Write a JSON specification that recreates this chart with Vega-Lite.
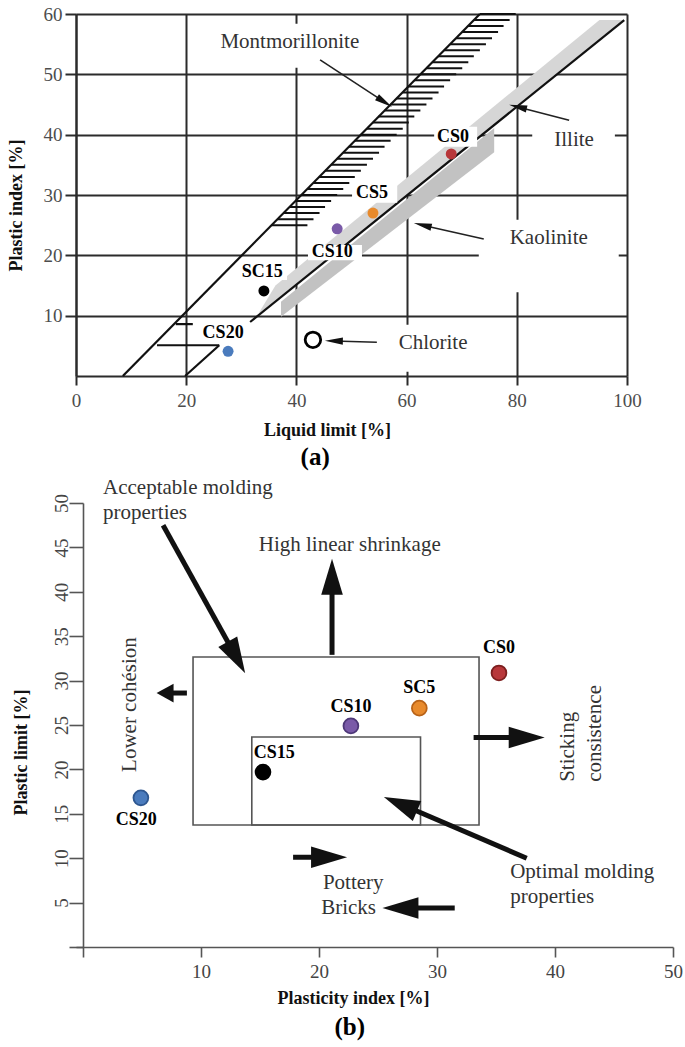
{
  "$schema": "https://vega.github.io/schema/vega-lite/v6.json",
  "padding": {"left": 7, "top": 5, "right": 5, "bottom": 5},
  "background": "white",
  "config": {
    "font": "Liberation Serif",
    "view": {"stroke": null},
    "text": {"font": "Liberation Serif"}
  },
  "bounds": "flush",
  "spacing": 127,
  "datasets": {
    "illite": [
      {"y": 10.5, "x": 33.2, "x2": 33.7},
      {"y": 15, "x": 36.2, "x2": 39.8},
      {"y": 59, "x": 95.0, "x2": 99.4}
    ],
    "kaolinite": [
      {"x": 37.2, "y": 12.3, "y2": 9.8},
      {"x": 75.9, "y": 41.1, "y2": 37.1}
    ],
    "linesA": [
      {"x": 8.5, "y": 0, "x2": 73.3, "y2": 60},
      {"x": 31.6, "y": 8.95, "x2": 99.5, "y2": 59.0},
      {"x": 18.1, "y": 8.6, "x2": 21.2, "y2": 8.6},
      {"x": 14.7, "y": 5.1, "x2": 26.0, "y2": 5.1},
      {"x": 19.8, "y": 0, "x2": 26.0, "y2": 5.1}
    ],
    "hatch": [
      {"y": 25, "x": 35.5, "x2": 42.0}, {"y": 26, "x": 36.6, "x2": 43.1},
      {"y": 27, "x": 37.7, "x2": 44.2}, {"y": 28, "x": 38.7, "x2": 45.2},
      {"y": 29, "x": 39.8, "x2": 46.3}, {"y": 30, "x": 40.9, "x2": 47.4},
      {"y": 31, "x": 42.0, "x2": 48.5}, {"y": 32, "x": 43.1, "x2": 49.6},
      {"y": 33, "x": 44.1, "x2": 50.6}, {"y": 34, "x": 45.2, "x2": 51.7},
      {"y": 35, "x": 46.3, "x2": 52.8}, {"y": 36, "x": 47.4, "x2": 53.9},
      {"y": 37, "x": 48.5, "x2": 55.0}, {"y": 38, "x": 49.5, "x2": 56.0},
      {"y": 39, "x": 50.6, "x2": 57.1}, {"y": 40, "x": 51.7, "x2": 58.2},
      {"y": 41, "x": 52.8, "x2": 59.3}, {"y": 42, "x": 53.9, "x2": 60.4},
      {"y": 43, "x": 54.9, "x2": 61.4}, {"y": 44, "x": 56.0, "x2": 62.5},
      {"y": 45, "x": 57.1, "x2": 63.6}, {"y": 46, "x": 58.2, "x2": 64.7},
      {"y": 47, "x": 59.3, "x2": 65.8}, {"y": 48, "x": 60.3, "x2": 66.8},
      {"y": 49, "x": 61.4, "x2": 67.9}, {"y": 50, "x": 62.5, "x2": 69.0},
      {"y": 51, "x": 63.6, "x2": 70.1}, {"y": 52, "x": 64.7, "x2": 71.2},
      {"y": 53, "x": 65.7, "x2": 72.2}, {"y": 54, "x": 66.8, "x2": 73.3},
      {"y": 55, "x": 67.9, "x2": 74.4}, {"y": 56, "x": 69.0, "x2": 75.5},
      {"y": 57, "x": 70.1, "x2": 76.6}, {"y": 58, "x": 71.1, "x2": 77.6},
      {"y": 59, "x": 72.2, "x2": 78.7}, {"y": 60, "x": 73.3, "x2": 79.8}
    ],
    "boxesA": [
      {"x": 65.0, "x2": 72.8, "y": 38.0, "y2": 41.3},
      {"x": 50.1, "x2": 58.3, "y": 28.7, "y2": 31.7},
      {"x": 42.1, "x2": 51.9, "y": 19.2, "y2": 21.7},
      {"x": 29.4, "x2": 38.3, "y": 15.9, "y2": 18.4},
      {"x": 22.5, "x2": 31.0, "y": 5.6, "y2": 8.1},
      {"x": 22.5, "x2": 55.2, "y": 51.1, "y2": 58.4},
      {"x": 82.8, "x2": 97.8, "y": 35.0, "y2": 42.5},
      {"x": 73.1, "x2": 98.5, "y": 13.9, "y2": 25.9},
      {"x": 55.2, "x2": 77.0, "y": 0.7, "y2": 8.5}
    ],
    "pointsA": [
      {"s": "CS0", "x": 68.1, "y": 36.8},
      {"s": "CS5", "x": 53.9, "y": 27.0},
      {"s": "CS10", "x": 47.4, "y": 24.4},
      {"s": "CS15", "x": 34.1, "y": 14.1},
      {"s": "CS20", "x": 27.6, "y": 4.1}
    ],
    "ringA": [{"x": 43.0, "y": 6.0}],
    "shaftsA": [
      {"id": "mont", "x": 44.3, "y": 52.4, "x2": 56.0, "y2": 45.4},
      {"id": "illite", "x": 89.5, "y": 42.4, "x2": 80.2, "y2": 44.6},
      {"id": "kaol", "x": 74.0, "y": 22.7, "x2": 62.9, "y2": 25.0},
      {"id": "chlor", "x": 54.6, "y": 5.6, "x2": 46.8, "y2": 5.8}
    ],
    "headsA": [
      {"id": "mont", "x": 56.0, "y": 45.4},
      {"id": "illite", "x": 80.2, "y": 44.6},
      {"id": "kaol", "x": 62.9, "y": 25.0},
      {"id": "chlor", "x": 46.8, "y": 5.8}
    ],
    "labelsA": [
      {"t": "CS0", "x": 68.4, "y": 39.6},
      {"t": "CS5", "x": 53.7, "y": 30.3},
      {"t": "CS10", "x": 46.5, "y": 20.6},
      {"t": "SC15", "x": 33.8, "y": 17.2},
      {"t": "CS20", "x": 26.7, "y": 7.1}
    ],
    "notesA": [
      {"t": "Montmorillonite", "x": 38.8, "y": 55.4},
      {"t": "Illite", "x": 90.4, "y": 39.1},
      {"t": "Kaolinite", "x": 85.8, "y": 22.9},
      {"t": "Chlorite", "x": 64.8, "y": 5.5}
    ],
    "tagA": [{"t": "(a)", "x": 43.4, "y": -13.4}],
    "rectsB": [
      {"x": 9.32, "x2": 33.56, "y": 13.74, "y2": 32.66},
      {"x": 14.3, "x2": 28.6, "y": 13.74, "y2": 23.65}
    ],
    "shaftsB": [
      {"id": "acc", "x": 6.78, "y": 47.5, "x2": 13.0, "y2": 32.6},
      {"id": "shr", "x": 21.1, "y": 32.9, "x2": 21.1, "y2": 41.7},
      {"id": "coh", "x": 8.8, "y": 28.6, "x2": 6.95, "y2": 28.6},
      {"id": "sti", "x": 33.1, "y": 23.6, "x2": 37.6, "y2": 23.6},
      {"id": "pot", "x": 17.8, "y": 10.1, "x2": 20.85, "y2": 10.1},
      {"id": "bri", "x": 31.5, "y": 4.4, "x2": 26.9, "y2": 4.4},
      {"id": "opt", "x": 37.6, "y": 10.0, "x2": 26.9, "y2": 16.1}
    ],
    "headsB": [
      {"id": "acc", "x": 13.0, "y": 32.6},
      {"id": "shr", "x": 21.1, "y": 41.7},
      {"id": "coh", "x": 6.95, "y": 28.6},
      {"id": "sti", "x": 37.6, "y": 23.6},
      {"id": "pot", "x": 20.85, "y": 10.1},
      {"id": "bri", "x": 26.9, "y": 4.4},
      {"id": "opt", "x": 26.9, "y": 16.1}
    ],
    "pointsB": [
      {"s": "CS0", "x": 35.25, "y": 30.86},
      {"s": "CS5", "x": 28.5, "y": 26.9},
      {"s": "CS10", "x": 22.7, "y": 24.9},
      {"s": "CS15", "x": 15.25, "y": 19.7},
      {"s": "CS20", "x": 4.9, "y": 16.8}
    ],
    "labelsB": [
      {"t": "CS0", "x": 35.25, "y": 33.7},
      {"t": "SC5", "x": 28.5, "y": 29.2},
      {"t": "CS10", "x": 22.7, "y": 27.0},
      {"t": "CS15", "x": 16.2, "y": 21.8},
      {"t": "CS20", "x": 4.5, "y": 14.3}
    ],
    "notesB": [
      {"t": "Acceptable molding", "x": 1.69, "y": 51.7, "k": "left"},
      {"t": "properties", "x": 1.69, "y": 48.9, "k": "left"},
      {"t": "Optimal molding", "x": 36.2, "y": 8.4, "k": "left"},
      {"t": "properties", "x": 36.2, "y": 5.6, "k": "left"},
      {"t": "High linear shrinkage", "x": 22.6, "y": 45.3, "k": "center"},
      {"t": "Pottery", "x": 22.9, "y": 7.2, "k": "center"},
      {"t": "Bricks", "x": 22.5, "y": 4.4, "k": "center"},
      {"t": "Lower cohésion", "x": 4.0, "y": 27.3, "k": "rotc"},
      {"t": "Sticking", "x": 41.1, "y": 18.6, "k": "rotl"},
      {"t": "consistence", "x": 43.4, "y": 18.6, "k": "rotl"}
    ],
    "tagB": [{"t": "(b)", "x": 22.6, "y": -9.0}]
  },
  "vconcat": [
    {
      "width": 551,
      "height": 362,
      "encoding": {
        "x": {
          "field": "x", "type": "quantitative",
          "scale": {"domain": [0, 100], "nice": false, "zero": false},
          "axis": {
            "values": [0, 20, 40, 60, 80, 100], "grid": true,
            "gridColor": "#2b2b2b", "gridWidth": 2, "gridOpacity": 1,
            "domainColor": "#2b2b2b", "domainWidth": 2,
            "tickColor": "#2b2b2b", "tickWidth": 2, "tickSize": 9,
            "labelFontSize": 19, "labelColor": "#4d4d4d", "labelPadding": 6,
            "labelFlush": false, "labelOverlap": false,
            "title": "Liquid limit [%]", "titleFontSize": 18, "titleFontWeight": "bold",
            "titleColor": "#111111", "titleX": 251, "titleY": 54,
            "titleAlign": "center", "titleBaseline": "middle"
          }
        },
        "y": {
          "field": "y", "type": "quantitative",
          "scale": {"domain": [0, 60], "nice": false, "zero": false},
          "axis": {
            "values": [10, 20, 30, 40, 50, 60], "grid": true,
            "gridColor": "#2b2b2b", "gridWidth": 2, "gridOpacity": 1,
            "domainColor": "#2b2b2b", "domainWidth": 2,
            "tickColor": "#2b2b2b", "tickWidth": 2, "tickSize": 11,
            "labelFontSize": 19, "labelColor": "#4d4d4d", "labelPadding": 3,
            "labelFlush": false, "labelOverlap": false,
            "title": "Plastic index [%]", "titleFontSize": 18, "titleFontWeight": "bold",
            "titleColor": "#111111", "titleAngle": 270, "titleX": -60, "titleY": 191,
            "titleAlign": "center", "titleBaseline": "middle"
          }
        }
      },
      "layer": [
        {
          "data": {"name": "illite"},
          "mark": {"type": "area", "orient": "horizontal", "color": "#d6d6d6", "opacity": 1},
          "encoding": {"x2": {"field": "x2"}}
        },
        {
          "data": {"name": "kaolinite"},
          "mark": {"type": "area", "orient": "vertical", "color": "#c2c2c2", "opacity": 1},
          "encoding": {"y2": {"field": "y2"}}
        },
        {
          "data": {"name": "linesA"},
          "mark": {"type": "rule", "color": "#111111", "strokeWidth": 2.2},
          "encoding": {"x2": {"field": "x2"}, "y2": {"field": "y2"}}
        },
        {
          "data": {"name": "hatch"},
          "mark": {"type": "rule", "color": "#111111", "strokeWidth": 2},
          "encoding": {"x2": {"field": "x2"}}
        },
        {
          "data": {"name": "boxesA"},
          "mark": {"type": "rect", "color": "white", "opacity": 1},
          "encoding": {"x2": {"field": "x2"}, "y2": {"field": "y2"}}
        },
        {
          "data": {"name": "pointsA"},
          "mark": {"type": "point", "filled": true, "size": 120, "opacity": 1},
          "encoding": {
            "fill": {
              "field": "s", "type": "nominal", "legend": null,
              "scale": {"domain": ["CS0", "CS5", "CS10", "CS15", "CS20"],
                        "range": ["#b8373a", "#e88a2c", "#7a5aa8", "#000000", "#4a7bbd"]}
            }
          }
        },
        {
          "data": {"name": "ringA"},
          "mark": {"type": "point", "filled": false, "size": 240, "stroke": "#000000", "strokeWidth": 2.8, "opacity": 1}
        },
        {
          "data": {"name": "shaftsA"},
          "mark": {"type": "rule", "color": "#222222", "strokeWidth": 1.6},
          "encoding": {"x2": {"field": "x2"}, "y2": {"field": "y2"}}
        },
        {
          "data": {"name": "headsA"},
          "transform": [{"filter": "datum.id == 'mont'"}],
          "mark": {"type": "point", "shape": "M0,-1 L-0.4,1 L0.4,1 Z", "filled": true, "color": "#111111", "size": 324, "angle": 123, "opacity": 1}
        },
        {
          "data": {"name": "headsA"},
          "transform": [{"filter": "datum.id == 'illite' || datum.id == 'kaol'"}],
          "mark": {"type": "point", "shape": "M0,-1 L-0.4,1 L0.4,1 Z", "filled": true, "color": "#111111", "size": 324, "angle": 283.5, "opacity": 1}
        },
        {
          "data": {"name": "headsA"},
          "transform": [{"filter": "datum.id == 'chlor'"}],
          "mark": {"type": "point", "shape": "M0,-1 L-0.4,1 L0.4,1 Z", "filled": true, "color": "#111111", "size": 324, "angle": 271, "opacity": 1}
        },
        {
          "data": {"name": "notesA"},
          "mark": {"type": "text", "fontSize": 21, "color": "#333333", "align": "center", "baseline": "middle"},
          "encoding": {"text": {"field": "t"}}
        },
        {
          "data": {"name": "labelsA"},
          "mark": {"type": "text", "fontSize": 18, "fontWeight": "bold", "color": "#000000", "align": "center", "baseline": "middle"},
          "encoding": {"text": {"field": "t"}}
        },
        {
          "data": {"name": "tagA"},
          "mark": {"type": "text", "fontSize": 25, "fontWeight": "bold", "color": "#000000", "align": "center", "baseline": "middle"},
          "encoding": {"text": {"field": "t"}}
        }
      ]
    },
    {
      "width": 597,
      "height": 444,
      "encoding": {
        "x": {
          "field": "x", "type": "quantitative",
          "scale": {"domain": [-0.6, 50], "nice": false, "zero": false},
          "axis": {
            "values": [0, 10, 20, 30, 40, 50], "grid": false,
            "labelExpr": "datum.value == 0 ? '' : datum.label",
            "domainColor": "#555555", "domainWidth": 1.6,
            "tickColor": "#555555", "tickWidth": 1.6, "tickSize": 10,
            "labelFontSize": 19, "labelColor": "#444444", "labelPadding": 5,
            "labelFlush": false, "labelOverlap": false,
            "title": "Plasticity index [%]", "titleFontSize": 18, "titleFontWeight": "bold",
            "titleColor": "#111111", "titleX": 277, "titleY": 51,
            "titleAlign": "center", "titleBaseline": "middle"
          }
        },
        "y": {
          "field": "y", "type": "quantitative",
          "scale": {"domain": [0, 50], "nice": false, "zero": false},
          "axis": {
            "values": [0, 5, 10, 15, 20, 25, 30, 35, 40, 45, 50], "grid": false,
            "labelExpr": "datum.value == 0 ? '' : datum.label",
            "offset": -7,
            "domainColor": "#555555", "domainWidth": 1.6,
            "tickColor": "#555555", "tickWidth": 1.6, "tickSize": 14,
            "labelFontSize": 19, "labelColor": "#444444", "labelPadding": 2,
            "labelAngle": 270, "labelAlign": "center", "labelBaseline": "alphabetic",
            "labelFlush": false, "labelOverlap": false,
            "title": "Plastic limit [%]", "titleFontSize": 18, "titleFontWeight": "bold",
            "titleColor": "#111111", "titleAngle": 270, "titleX": -62, "titleY": 249,
            "titleAlign": "center", "titleBaseline": "middle"
          }
        }
      },
      "layer": [
        {
          "data": {"name": "rectsB"},
          "mark": {"type": "rect", "fillOpacity": 0, "stroke": "#555555", "strokeWidth": 1.6},
          "encoding": {"x2": {"field": "x2"}, "y2": {"field": "y2"}}
        },
        {
          "data": {"name": "shaftsB"},
          "mark": {"type": "rule", "color": "#111111", "strokeWidth": 5, "strokeCap": "butt"},
          "encoding": {"x2": {"field": "x2"}, "y2": {"field": "y2"}}
        },
        {
          "data": {"name": "headsB"},
          "transform": [{"filter": "datum.id == 'acc'"}],
          "mark": {"type": "point", "shape": "M0,-1 L-0.6,1 L0.6,1 Z", "filled": true, "color": "#111111", "size": 1296, "angle": 151, "opacity": 1}
        },
        {
          "data": {"name": "headsB"},
          "transform": [{"filter": "datum.id == 'shr'"}],
          "mark": {"type": "point", "shape": "M0,-1 L-0.6,1 L0.6,1 Z", "filled": true, "color": "#111111", "size": 1296, "angle": 0, "opacity": 1}
        },
        {
          "data": {"name": "headsB"},
          "transform": [{"filter": "datum.id == 'sti' || datum.id == 'pot'"}],
          "mark": {"type": "point", "shape": "M0,-1 L-0.6,1 L0.6,1 Z", "filled": true, "color": "#111111", "size": 1296, "angle": 90, "opacity": 1}
        },
        {
          "data": {"name": "headsB"},
          "transform": [{"filter": "datum.id == 'bri'"}],
          "mark": {"type": "point", "shape": "M0,-1 L-0.6,1 L0.6,1 Z", "filled": true, "color": "#111111", "size": 1296, "angle": 270, "opacity": 1}
        },
        {
          "data": {"name": "headsB"},
          "transform": [{"filter": "datum.id == 'coh'"}],
          "mark": {"type": "point", "shape": "M0,-1 L-1.1,1 L1.1,1 Z", "filled": true, "color": "#111111", "size": 289, "angle": 270, "opacity": 1}
        },
        {
          "data": {"name": "headsB"},
          "transform": [{"filter": "datum.id == 'opt'"}],
          "mark": {"type": "point", "shape": "M0,-1 L-0.6,1 L0.6,1 Z", "filled": true, "color": "#111111", "size": 1296, "angle": 293, "opacity": 1}
        },
        {
          "data": {"name": "pointsB"},
          "mark": {"type": "point", "filled": true, "size": 220, "strokeWidth": 1.8, "opacity": 1},
          "encoding": {
            "fill": {
              "field": "s", "type": "nominal", "legend": null,
              "scale": {"domain": ["CS0", "CS5", "CS10", "CS15", "CS20"],
                        "range": ["#b8373a", "#e88a2c", "#7a5aa8", "#000000", "#4a7bbd"]}
            },
            "stroke": {
              "field": "s", "type": "nominal", "legend": null,
              "scale": {"domain": ["CS0", "CS5", "CS10", "CS15", "CS20"],
                        "range": ["#7d1f1f", "#b86217", "#4e3878", "#000000", "#2e5790"]}
            }
          }
        },
        {
          "data": {"name": "labelsB"},
          "mark": {"type": "text", "fontSize": 18, "fontWeight": "bold", "color": "#000000", "align": "center", "baseline": "middle"},
          "encoding": {"text": {"field": "t"}}
        },
        {
          "data": {"name": "notesB"},
          "transform": [{"filter": "datum.k == 'left'"}],
          "mark": {"type": "text", "fontSize": 21, "color": "#333333", "align": "left", "baseline": "middle"},
          "encoding": {"text": {"field": "t"}}
        },
        {
          "data": {"name": "notesB"},
          "transform": [{"filter": "datum.k == 'center'"}],
          "mark": {"type": "text", "fontSize": 21, "color": "#333333", "align": "center", "baseline": "middle"},
          "encoding": {"text": {"field": "t"}}
        },
        {
          "data": {"name": "notesB"},
          "transform": [{"filter": "datum.k == 'rotc'"}],
          "mark": {"type": "text", "fontSize": 21, "color": "#333333", "align": "center", "baseline": "middle", "angle": 270},
          "encoding": {"text": {"field": "t"}}
        },
        {
          "data": {"name": "notesB"},
          "transform": [{"filter": "datum.k == 'rotl'"}],
          "mark": {"type": "text", "fontSize": 21, "color": "#333333", "align": "left", "baseline": "middle", "angle": 270},
          "encoding": {"text": {"field": "t"}}
        },
        {
          "data": {"name": "tagB"},
          "mark": {"type": "text", "fontSize": 25, "fontWeight": "bold", "color": "#000000", "align": "center", "baseline": "middle"},
          "encoding": {"text": {"field": "t"}}
        }
      ]
    }
  ]
}
